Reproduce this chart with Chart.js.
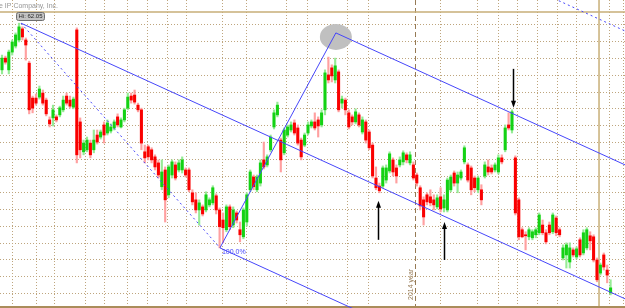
<!DOCTYPE html>
<html>
<head>
<meta charset="utf-8">
<script src="https://cdn.jsdelivr.net/npm/chart.js@4.4.1/dist/chart.umd.min.js"></script>
<style>
  html, body { margin: 0; padding: 0; background: #fff; }
</style>
</head>
<body>
<canvas id="chart" width="625" height="308"></canvas>
<script>
// daily candles, one per trading day (x = day index)
const opens = [
  60.66, 61.01, 60.66, 61.19, 61.37, 61.55, 61.88, 61.55, 60.86, 59.82,
  59.82, 59.85, 59.97, 59.76, 59.17, 59.23, 59.26, 59.32, 59.47, 59.88,
  59.76, 59.55, 61.85, 59.11, 58.22, 58.28, 58.48, 58.28, 58.72, 58.66,
  59.02, 58.78, 58.84, 58.93, 59.26, 58.96, 59.17, 59.52, 59.88, 59.91,
  59.61, 59.47, 58.22, 58.37, 58.28, 58.07, 57.89, 57.18, 57.68, 56.94,
  57.53, 57.83, 57.68, 57.68, 57.68, 57.68, 57.00, 56.79, 56.49, 56.58,
  56.49, 56.64, 56.70, 56.91, 56.49, 56.19, 55.90, 56.58, 56.04, 56.40,
  55.90, 55.69, 56.13, 57.09, 57.47, 57.09, 57.29, 57.98, 57.83, 58.28,
  58.96, 59.32, 58.57, 58.19, 58.72, 58.87, 59.08, 58.93, 58.57, 58.42,
  58.78, 58.99, 59.11, 59.17, 59.02, 59.47, 60.51, 60.72, 60.36, 60.60,
  59.67, 59.76, 59.38, 59.26, 59.11, 59.32, 58.81, 59.11, 58.81, 58.42,
  57.44, 57.20, 57.20, 57.38, 57.65, 57.98, 57.74, 57.83, 57.92, 58.13,
  57.89, 57.83, 57.53, 57.15, 56.79, 56.94, 56.88, 56.79, 56.58, 56.88,
  56.55, 56.49, 57.09, 57.59, 57.29, 57.44, 57.92, 57.83, 57.74, 57.44,
  57.09, 57.09, 57.50, 57.77, 57.74, 57.68, 57.62, 58.04, 58.28, 59.02,
  58.87, 58.04, 56.79, 55.90, 55.75, 55.69, 55.66, 55.75, 55.81, 56.04,
  55.81, 56.04, 55.84, 56.25, 55.90, 55.06, 55.15, 54.94, 55.30, 55.09,
  55.60, 55.21, 55.36, 55.72, 55.69, 55.00, 54.61, 55.15, 54.70, 54.02
];
const highs = [
  61.10, 61.07, 61.25, 61.55, 61.76, 62.05, 61.94, 61.61, 60.92, 59.88,
  59.94, 60.18, 60.06, 59.82, 59.26, 59.61, 59.32, 59.58, 59.88, 59.97,
  59.88, 59.85, 61.91, 59.23, 58.57, 58.66, 58.57, 58.87, 58.87, 58.87,
  59.11, 59.17, 59.05, 59.17, 59.35, 59.23, 59.52, 59.97, 59.97, 60.06,
  59.67, 59.52, 58.42, 58.42, 58.34, 58.13, 57.98, 57.98, 57.77, 57.83,
  57.98, 57.92, 57.98, 58.07, 57.74, 57.74, 57.09, 57.00, 56.79, 56.64,
  57.03, 56.85, 57.21, 56.97, 56.55, 56.40, 56.64, 56.64, 56.58, 56.46,
  56.13, 56.55, 57.00, 57.68, 57.53, 57.53, 57.98, 58.51, 58.13, 58.72,
  59.47, 59.70, 58.63, 58.93, 59.02, 59.11, 59.17, 59.02, 58.63, 58.78,
  59.11, 59.17, 59.38, 59.26, 59.47, 60.66, 61.04, 60.81, 61.01, 60.66,
  59.88, 59.82, 59.47, 59.32, 59.50, 59.38, 59.26, 59.17, 58.87, 58.48,
  57.77, 57.29, 57.80, 57.83, 58.22, 58.04, 57.83, 58.07, 58.25, 58.19,
  58.22, 57.92, 57.59, 57.21, 56.88, 57.00, 57.09, 56.94, 56.94, 57.15,
  56.94, 57.44, 57.53, 57.65, 57.62, 57.68, 58.40, 57.89, 57.80, 57.50,
  57.50, 57.24, 57.92, 57.98, 57.83, 57.89, 58.13, 58.13, 59.02, 59.38,
  59.47, 58.10, 56.85, 55.96, 55.84, 55.96, 55.90, 55.96, 56.40, 56.19,
  55.90, 56.13, 56.40, 56.31, 55.96, 55.45, 55.51, 55.51, 55.36, 55.39,
  55.66, 55.90, 55.96, 55.84, 55.75, 55.06, 54.91, 55.21, 54.85, 54.41
];
const lows = [
  60.54, 60.83, 60.54, 61.10, 61.31, 61.49, 61.55, 60.95, 59.35, 59.38,
  59.61, 59.79, 59.61, 59.29, 58.96, 58.99, 59.11, 59.26, 59.41, 59.61,
  59.52, 59.50, 57.89, 58.04, 58.13, 58.22, 58.04, 58.19, 58.45, 58.60,
  58.48, 58.72, 58.78, 58.87, 58.96, 58.93, 59.11, 59.47, 59.67, 59.64,
  59.41, 58.28, 57.89, 57.98, 57.89, 57.68, 57.44, 57.09, 56.13, 56.85,
  57.44, 57.38, 57.62, 57.59, 57.47, 57.03, 56.64, 56.40, 56.04, 56.31,
  56.43, 56.58, 56.64, 56.37, 55.36, 55.51, 55.84, 55.90, 55.96, 56.10,
  55.54, 55.63, 56.01, 57.03, 57.09, 57.03, 57.20, 57.71, 57.77, 58.22,
  58.90, 59.26, 57.62, 58.13, 58.66, 58.81, 58.72, 58.42, 57.98, 58.37,
  58.72, 58.93, 58.87, 58.66, 58.96, 59.32, 60.27, 60.30, 60.27, 59.41,
  59.52, 59.32, 58.90, 59.02, 59.05, 58.96, 58.75, 58.48, 58.28, 57.44,
  57.09, 57.00, 57.15, 57.29, 57.59, 57.50, 57.29, 57.77, 57.83, 57.89,
  57.83, 57.38, 57.20, 56.49, 56.04, 56.64, 56.61, 56.49, 56.52, 56.43,
  56.43, 56.43, 57.03, 57.20, 57.00, 57.38, 57.86, 57.32, 56.94, 57.03,
  57.00, 56.64, 57.44, 57.53, 57.56, 57.62, 57.56, 57.86, 58.22, 58.87,
  58.78, 56.34, 55.60, 55.66, 55.30, 55.60, 55.60, 55.66, 55.75, 55.75,
  55.48, 55.75, 55.78, 55.72, 55.69, 55.00, 54.76, 54.76, 55.09, 55.03,
  55.09, 55.15, 55.30, 55.30, 54.94, 54.35, 54.55, 54.70, 54.32, 53.96
];
const closes = [
  61.01, 60.89, 61.19, 61.49, 61.70, 61.94, 61.64, 61.40, 59.47, 59.52,
  59.67, 60.09, 59.67, 59.35, 59.05, 59.47, 59.17, 59.53, 59.76, 59.67,
  59.58, 59.79, 58.13, 58.28, 58.48, 58.57, 58.13, 58.57, 58.51, 58.81,
  58.72, 59.08, 58.96, 59.11, 59.02, 59.17, 59.47, 59.85, 59.76, 59.70,
  59.47, 58.48, 58.04, 58.07, 57.98, 57.77, 57.53, 57.62, 56.79, 57.77,
  57.92, 57.44, 57.89, 57.98, 57.53, 57.09, 56.73, 56.49, 56.70, 56.37,
  56.94, 56.79, 57.15, 56.49, 55.99, 55.96, 56.58, 55.99, 56.49, 56.19,
  55.75, 56.49, 56.94, 57.62, 57.18, 57.47, 57.89, 57.77, 58.07, 58.66,
  59.38, 59.61, 57.98, 58.87, 58.96, 59.02, 58.78, 58.48, 58.07, 58.72,
  59.02, 59.11, 58.93, 58.99, 59.38, 60.57, 60.36, 60.48, 60.78, 59.47,
  59.79, 59.47, 58.96, 59.11, 59.41, 59.02, 59.17, 58.57, 58.34, 57.50,
  57.15, 57.06, 57.74, 57.74, 58.16, 57.62, 57.50, 57.98, 58.19, 57.98,
  58.13, 57.44, 57.29, 56.61, 56.28, 56.73, 56.70, 56.64, 56.85, 56.52,
  56.79, 57.38, 57.47, 57.29, 57.53, 57.62, 58.34, 57.38, 57.09, 57.15,
  57.44, 56.79, 57.83, 57.62, 57.62, 57.83, 58.04, 57.92, 58.93, 58.93,
  59.41, 56.40, 55.69, 55.69, 55.72, 55.90, 55.84, 55.90, 56.34, 55.81,
  55.54, 55.81, 56.34, 55.81, 55.75, 55.36, 55.45, 55.36, 55.15, 55.33,
  55.15, 55.81, 55.90, 55.57, 55.00, 54.41, 54.85, 54.79, 54.55, 54.17
];

// price grid lines and weekly day grid lines
const priceTicks = [54, 54.5, 55, 55.5, 56, 56.5, 57, 57.5, 58, 58.5, 59, 59.5, 60, 60.5, 61, 61.5, 62];
const dayTicks = [3.2, 10.0, 15.3, 24.7, 30.0, 36.8, 42.9, 48.8, 54.4, 65.0, 71.8, 83.8, 90.0,
                  101.5, 107.9, 129.1, 140.0, 145.9, 151.5, 157.6, 163.5, 169.1, 178.8, 182.9];
const yearDay = 121.5;

// pitchfork pivots: high, low, high
const pivots = [{x: 5.6, y: 62.05}, {x: 64.1, y: 55.36}, {x: 98.2, y: 61.76}];
const cursor = {x: 175.6, y: 62.38};
const arrows = [
  {x: 150.3, from: 60.69, to: 59.53},
  {x: 110.6, from: 55.60, to: 56.76},
  {x: 130.0, from: 55.00, to: 56.13}
];

const xMin = -0.59, xMax = 183.24;

// pitchfork geometry
const p1 = pivots[0], p2 = pivots[1], p3 = pivots[2];
const mid = {x: (p2.x + p3.x) / 2, y: (p2.y + p3.y) / 2};
const k = (mid.y - p1.y) / (mid.x - p1.x);
const along = (p, dy) => [{x: p.x, y: p.y + dy}, {x: xMax, y: p.y + dy + k * (xMax - p.x)}];
const width = p3.y - (p1.y + k * (p3.x - p1.x));

const UP = 'rgb(20,210,20)', DOWN = 'rgb(250,0,0)';
const UP_W = 'rgb(150,235,150)', DOWN_W = 'rgb(255,160,160)';
const BLUE = 'rgb(70,70,250)';
const isUp = i => closes[i] >= opens[i];

const days = opens.map((v, i) => i);

const overlay = {
  id: 'overlay',
  beforeDatasetsDraw(chart) {
    const {ctx, chartArea: a, scales: {x, y}} = chart;
    ctx.save();
    // 2014 separator
    const sx = Math.round(x.getPixelForValue(yearDay)) + 0.5;
    ctx.strokeStyle = 'rgb(150,122,85)';
    ctx.lineWidth = 1;
    ctx.setLineDash([5, 3]);
    ctx.beginPath(); ctx.moveTo(sx, a.top); ctx.lineTo(sx, a.bottom); ctx.stroke();
    ctx.setLineDash([]);
    // cursor cross
    ctx.strokeStyle = 'rgb(200,175,120)';
    ctx.lineWidth = 1.5;
    const cx = x.getPixelForValue(cursor.x), cy = y.getPixelForValue(cursor.y);
    ctx.beginPath();
    ctx.moveTo(a.left, cy); ctx.lineTo(a.right, cy);
    ctx.moveTo(cx, a.top); ctx.lineTo(cx, a.bottom);
    ctx.stroke();
    // bottom frame
    ctx.strokeStyle = 'rgb(170,140,90)';
    ctx.lineWidth = 2;
    ctx.beginPath(); ctx.moveTo(a.left, a.bottom - 1); ctx.lineTo(a.right, a.bottom - 1); ctx.stroke();
    // highlight ellipse at the last pivot
    ctx.fillStyle = 'rgb(192,192,192)';
    ctx.beginPath();
    ctx.ellipse(x.getPixelForValue(p3.x), y.getPixelForValue(p3.y) + 4, 16, 13, 0, 0, Math.PI * 2);
    ctx.fill();
    ctx.restore();
  },
  afterDatasetsDraw(chart) {
    const {ctx, scales: {x, y}} = chart;
    ctx.save();
    // title
    ctx.fillStyle = 'rgb(150,150,150)';
    ctx.font = '7px "Liberation Sans", Arial, sans-serif';
    ctx.textBaseline = 'alphabetic';
    ctx.fillText('e IP Company, Inc.', -1, 8);
    // Hi label
    const hx = x.getPixelForValue(p1.x), hy = y.getPixelForValue(p1.y);
    ctx.fillStyle = 'rgb(195,195,195)';
    ctx.strokeStyle = 'rgb(110,110,110)';
    ctx.lineWidth = 1;
    ctx.beginPath();
    ctx.roundRect(Math.round(hx) - 4.5, Math.round(hy) - 10.5, 28, 8, 2);
    ctx.fill(); ctx.stroke();
    ctx.fillStyle = 'rgb(40,40,40)';
    ctx.font = '6px "Liberation Sans", Arial, sans-serif';
    ctx.textAlign = 'center';
    ctx.textBaseline = 'middle';
    ctx.fillText('Hi: ' + p1.y.toFixed(2), Math.round(hx) + 9.5, Math.round(hy) - 6.5);
    // 100.0% label
    ctx.fillStyle = BLUE;
    ctx.font = '7px "Liberation Sans", Arial, sans-serif';
    ctx.textAlign = 'left';
    ctx.textBaseline = 'top';
    ctx.fillText('100.0%', x.getPixelForValue(p2.x) + 2, y.getPixelForValue(p2.y) + 1);
    // year text
    ctx.fillStyle = 'rgb(150,122,85)';
    ctx.translate(x.getPixelForValue(yearDay) - 4, 300);
    ctx.rotate(-Math.PI / 2);
    ctx.textBaseline = 'middle';
    ctx.fillText('2014 year', 0, 0);
    ctx.setTransform(1, 0, 0, 1, 0, 0);
    // arrows
    ctx.strokeStyle = '#000';
    ctx.fillStyle = '#000';
    ctx.lineWidth = 1.5;
    for (const ar of arrows) {
      const ax = Math.round(x.getPixelForValue(ar.x)) + 0.5;
      const y0 = y.getPixelForValue(ar.from), y1 = y.getPixelForValue(ar.to);
      const dir = y1 > y0 ? 1 : -1;
      ctx.beginPath(); ctx.moveTo(ax, y0); ctx.lineTo(ax, y1 - dir * 5); ctx.stroke();
      ctx.beginPath();
      ctx.moveTo(ax, y1);
      ctx.lineTo(ax - 2.5, y1 - dir * 7);
      ctx.lineTo(ax + 2.5, y1 - dir * 7);
      ctx.closePath(); ctx.fill();
    }
    ctx.restore();
  }
};

const lineDs = (data, dash) => ({
  type: 'line',
  data: data,
  borderColor: BLUE,
  borderWidth: 1,
  borderDash: dash || [],
  pointRadius: 0,
  fill: false,
  order: 1
});

new Chart(document.getElementById('chart'), {
  type: 'bar',
  data: {
    datasets: [
      {
        label: 'wick',
        data: days.map(i => ({x: i, y: [lows[i], highs[i]]})),
        backgroundColor: ctx => isUp(ctx.dataIndex) ? UP_W : DOWN_W,
        barThickness: 1.5,
        grouped: false,
        order: 3
      },
      {
        label: 'body',
        data: days.map(i => ({x: i, y: [opens[i], closes[i]]})),
        backgroundColor: ctx => isUp(ctx.dataIndex) ? UP : DOWN,
        barThickness: 2.4,
        minBarLength: 1,
        grouped: false,
        order: 2
      },
      lineDs(along(p1, 0)),
      lineDs(along(p3, 0)),
      lineDs(along(p2, 0)),
      lineDs(along(p3, width), [2, 3]),
      lineDs([p1, p2], [2, 3]),
      lineDs([p2, p3])
    ]
  },
  options: {
    responsive: false,
    animation: false,
    events: [],
    layout: {padding: 0},
    plugins: {legend: {display: false}, tooltip: {enabled: false}},
    scales: {
      x: {
        type: 'linear',
        min: xMin,
        max: xMax,
        offset: false,
        afterBuildTicks: s => { s.ticks = dayTicks.map(v => ({value: v})); },
        afterFit: s => { s.height = 0; s.paddingLeft = 0; s.paddingRight = 0; },
        ticks: {display: false},
        grid: {color: 'rgb(190,165,125)', drawTicks: false, lineWidth: 1, offset: false},
        border: {display: false, dash: [1, 2]}
      },
      y: {
        min: 53.57,
        max: 62.74,
        afterBuildTicks: s => { s.ticks = priceTicks.map(v => ({value: v})); },
        afterFit: s => { s.width = 0; s.paddingTop = 0; s.paddingBottom = 0; },
        ticks: {display: false},
        grid: {color: 'rgb(190,165,125)', drawTicks: false, lineWidth: 1},
        border: {display: false, dash: [1, 2]}
      }
    }
  },
  plugins: [overlay]
});
</script>
</body>
</html>
